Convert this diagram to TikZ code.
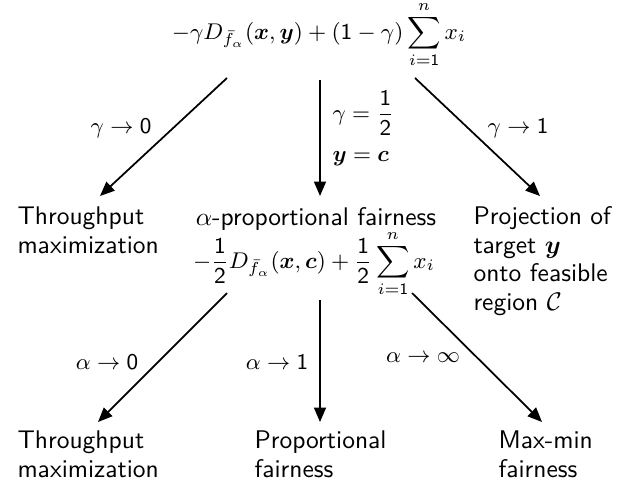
\RequirePackage{fix-cm}
\documentclass[tikz,border=0pt]{standalone}
\usepackage{amsmath}
\usetikzlibrary{arrows.meta}
\DeclareSymbolFont{sfdigits}{OT1}{cmss}{m}{n}
\DeclareMathSymbol{0}{\mathalpha}{sfdigits}{`0}
\DeclareMathSymbol{1}{\mathalpha}{sfdigits}{`1}
\DeclareMathSymbol{2}{\mathalpha}{sfdigits}{`2}
\DeclareMathSymbol{3}{\mathalpha}{sfdigits}{`3}
\DeclareMathSymbol{4}{\mathalpha}{sfdigits}{`4}
\DeclareMathSymbol{5}{\mathalpha}{sfdigits}{`5}
\DeclareMathSymbol{6}{\mathalpha}{sfdigits}{`6}
\DeclareMathSymbol{7}{\mathalpha}{sfdigits}{`7}
\DeclareMathSymbol{8}{\mathalpha}{sfdigits}{`8}
\DeclareMathSymbol{9}{\mathalpha}{sfdigits}{`9}
\tikzset{
  txt/.style={font=\sffamily\fontsize{10.2}{11.4}\selectfont, inner sep=0pt, align=left},
  fml/.style={font=\fontsize{9.1}{11}\selectfont, inner sep=0pt},
  lbl/.style={font=\sffamily\fontsize{9}{10}\selectfont, inner sep=0pt},
  arr/.style={line width=0.7pt, -{Triangle[length=5.8pt,width=4.8pt]}},
}
\begin{document}
\begin{tikzpicture}[x=0.4pt,y=-0.4pt]
\useasboundingbox (0,0) rectangle (638,487);
% top formula
\node[fml,anchor=base] (f1) at (319,39)
  {$\displaystyle -\gamma D_{\bar f_\alpha}(\boldsymbol{x},\boldsymbol{y})+(1-\gamma)\sum_{i=1}^{n} x_i$};
% level 2 (base anchor = baseline of the last line)
\node[txt,anchor=base west] (tm1) at (17,253) {Throughput\\maximization};
\node[txt,anchor=base] (apf) at (316,225) {$\alpha$-proportional fairness};
\node[fml,anchor=base] (f2) at (314,268)
  {$\displaystyle -\frac{1}{2}D_{\bar f_\alpha}(\boldsymbol{x},\boldsymbol{c})+\frac{1}{2}\sum_{i=1}^{n} x_i$};
\node[txt,anchor=base west] (proj) at (473,310) {Projection of\\target $\boldsymbol{y}$\\onto feasible\\region $\mathcal{C}$};
% level 3
\node[txt,anchor=base west] (tm2) at (17,477) {Throughput\\maximization};
\node[txt,anchor=base west] (pf) at (254,477) {Proportional\\fairness};
\node[txt,anchor=base west] (mm) at (498,477) {Max-min\\fairness};
% arrow end points
\coordinate (a1s) at (227,78);  \coordinate (a1e) at (100,196);
\coordinate (a2s) at (320,80);  \coordinate (a2e) at (320,196);
\coordinate (a3s) at (415,78);  \coordinate (a3e) at (540,196);
\coordinate (b1s) at (227,293); \coordinate (b1e) at (98,422);
\coordinate (b2s) at (320,300); \coordinate (b2e) at (320,422);
\coordinate (b3s) at (412,293); \coordinate (b3e) at (542,422);
\draw[arr] (a1s) -- (a1e);
\draw[arr] (a2s) -- (a2e);
\draw[arr] (a3s) -- (a3e);
\draw[arr] (b1s) -- (b1e);
\draw[arr] (b2s) -- (b2e);
\draw[arr] (b3s) -- (b3e);
% labels
\node[lbl] (l1) at (121,128) {$\gamma\to 0$};
\node[lbl,anchor=base west] (l2a) at (332,120) {$\displaystyle\gamma=\frac{1}{2}$};
\node[lbl,anchor=base west] (l2b) at (332,161) {$\boldsymbol{y}=\boldsymbol{c}$};
\node[lbl] (l3) at (518,128) {$\gamma\to 1$};
\node[lbl] (m1) at (107,362) {$\alpha\to 0$};
\node[lbl] (m2) at (277,362) {$\alpha\to 1$};
\node[lbl] (m3) at (423,358) {$\alpha\to\infty$};
\end{tikzpicture}
\end{document}
